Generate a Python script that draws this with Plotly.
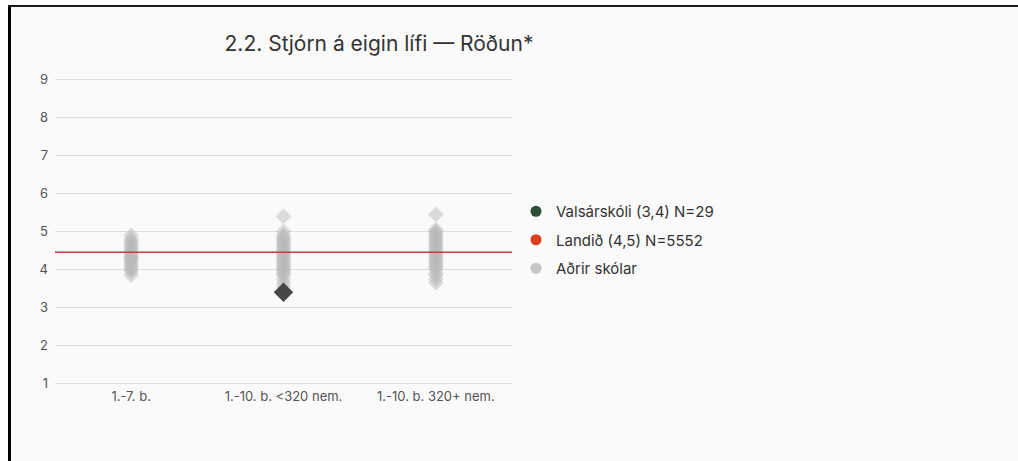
import plotly.graph_objects as go

categories = ["1.-7. b.", "1.-10. b. <320 nem.", "1.-10. b. 320+ nem."]
cat_pos = [0, 1, 2]

other_cat1 = [3.85, 3.95, 4.0, 4.05, 4.1, 4.15, 4.2, 4.25, 4.3, 4.3, 4.35, 4.4,
              4.45, 4.5, 4.55, 4.6, 4.65, 4.7, 4.75, 4.8, 4.9]
other_cat2 = [3.55, 3.65, 3.75, 3.85, 3.9, 3.95, 4.0, 4.05, 4.1, 4.15, 4.2, 4.25,
              4.3, 4.35, 4.4, 4.45, 4.5, 4.55, 4.6, 4.65, 4.7, 4.75, 4.8, 4.85,
              4.9, 5.0, 5.4]
other_cat3 = [3.65, 3.75, 3.85, 3.9, 4.0, 4.05, 4.1, 4.15, 4.2, 4.25, 4.3, 4.35,
              4.4, 4.45, 4.5, 4.55, 4.6, 4.65, 4.7, 4.75, 4.8, 4.85, 4.9, 4.95,
              5.0, 5.05, 5.45]
other_values = [other_cat1, other_cat2, other_cat3]

school_name = "Valsárskóli (3,4) N=29"
school_category = 1
school_value = 3.4

national_name = "Landið (4,5) N=5552"
national_value = 4.45

others_name = "Aðrir skólar"

title_text = "2.2. Stjórn á eigin lífi — Röðun*"
y_ticks = [1, 2, 3, 4, 5, 6, 7, 8, 9]

FONT = "Inter, Noto Sans, sans-serif"
W, H = 1018, 461
ML, MR, MT, MB = 55, 1018 - 512, 76, 74
PW = W - ML - MR
PH = H - MT - MB


def px_x(px):
    return (px - ML) / PW


def px_y(py):
    return (H - MB - py) / PH


fig = go.Figure()

# other schools
xs, ys = [], []
for pos, vals in zip(cat_pos, other_values):
    xs += [pos] * len(vals)
    ys += vals
fig.add_trace(go.Scatter(
    x=xs, y=ys, mode="markers", showlegend=False, hoverinfo="skip",
    marker=dict(symbol="diamond", size=12, color="rgba(185,185,185,0.5)",
                line=dict(width=0))))

# national line
fig.add_trace(go.Scatter(
    x=[-0.5, 2.5], y=[national_value, national_value], mode="lines",
    showlegend=False, hoverinfo="skip",
    line=dict(color="#c9393f", width=1.5)))

# school marker
fig.add_trace(go.Scatter(
    x=[cat_pos[school_category]], y=[school_value], mode="markers",
    showlegend=False,
    marker=dict(symbol="diamond", size=15, color="#474747",
                line=dict(width=0))))

# legend entries
for i, (name, col) in enumerate([(school_name, "#2b4f33"),
                                 (national_name, "#dc3f1c"),
                                 (others_name, "#c6c6c6")]):
    fig.add_trace(go.Scatter(
        x=[None], y=[None], mode="markers", name=name, legendgroup=f"g{i}",
        marker=dict(symbol="circle", size=11, color=col)))

shapes = [
    # white outside-frame areas
    dict(type="rect", xref="paper", yref="paper", x0=px_x(0), x1=px_x(8),
         y0=px_y(H), y1=px_y(0), fillcolor="white", line=dict(width=0), layer="below"),
    dict(type="rect", xref="paper", yref="paper", x0=px_x(0), x1=px_x(W),
         y0=px_y(5), y1=px_y(0), fillcolor="white", line=dict(width=0), layer="below"),
    # frame lines
    dict(type="line", xref="paper", yref="paper", x0=px_x(9.5), x1=px_x(9.5),
         y0=px_y(5), y1=px_y(H + 5), line=dict(color="#000000", width=3)),
    dict(type="line", xref="paper", yref="paper", x0=px_x(8), x1=px_x(W + 5),
         y0=px_y(6), y1=px_y(6), line=dict(color="#1a1a1a", width=2)),
]

fig.update_layout(
    width=W, height=H,
    margin=dict(l=ML, r=MR, t=MT, b=MB),
    paper_bgcolor="#fafafa", plot_bgcolor="#fafafa",
    font=dict(family=FONT, size=12, color="#555"),
    title=dict(text=title_text, x=379 / W, xref="container", xanchor="center",
               y=1 - 44 / H, yref="container", yanchor="middle",
               font=dict(family=FONT, size=21, color="#333")),
    xaxis=dict(range=[-0.5, 2.5], tickvals=cat_pos, ticktext=categories,
               showgrid=False, zeroline=False, showline=False,
               tickfont=dict(size=13, color="#555")),
    yaxis=dict(range=[0.9, 9.1], tickvals=y_ticks, showgrid=True,
               gridcolor="#dedede", gridwidth=1, zeroline=False, showline=False,
               ticks="", ticklabelstandoff=6,
               tickfont=dict(size=13, color="#555")),
    legend=dict(x=px_x(516), xanchor="left", y=px_y(240), yanchor="middle",
                font=dict(family=FONT, size=15, color="#333"),
                bgcolor="rgba(0,0,0,0)", traceorder="grouped",
                tracegroupgap=6, itemclick=False),
    shapes=shapes,
    showlegend=True,
)

fig.write_html("out.html", config={"displayModeBar": False},
               post_script="document.body.style.margin='0px';")
